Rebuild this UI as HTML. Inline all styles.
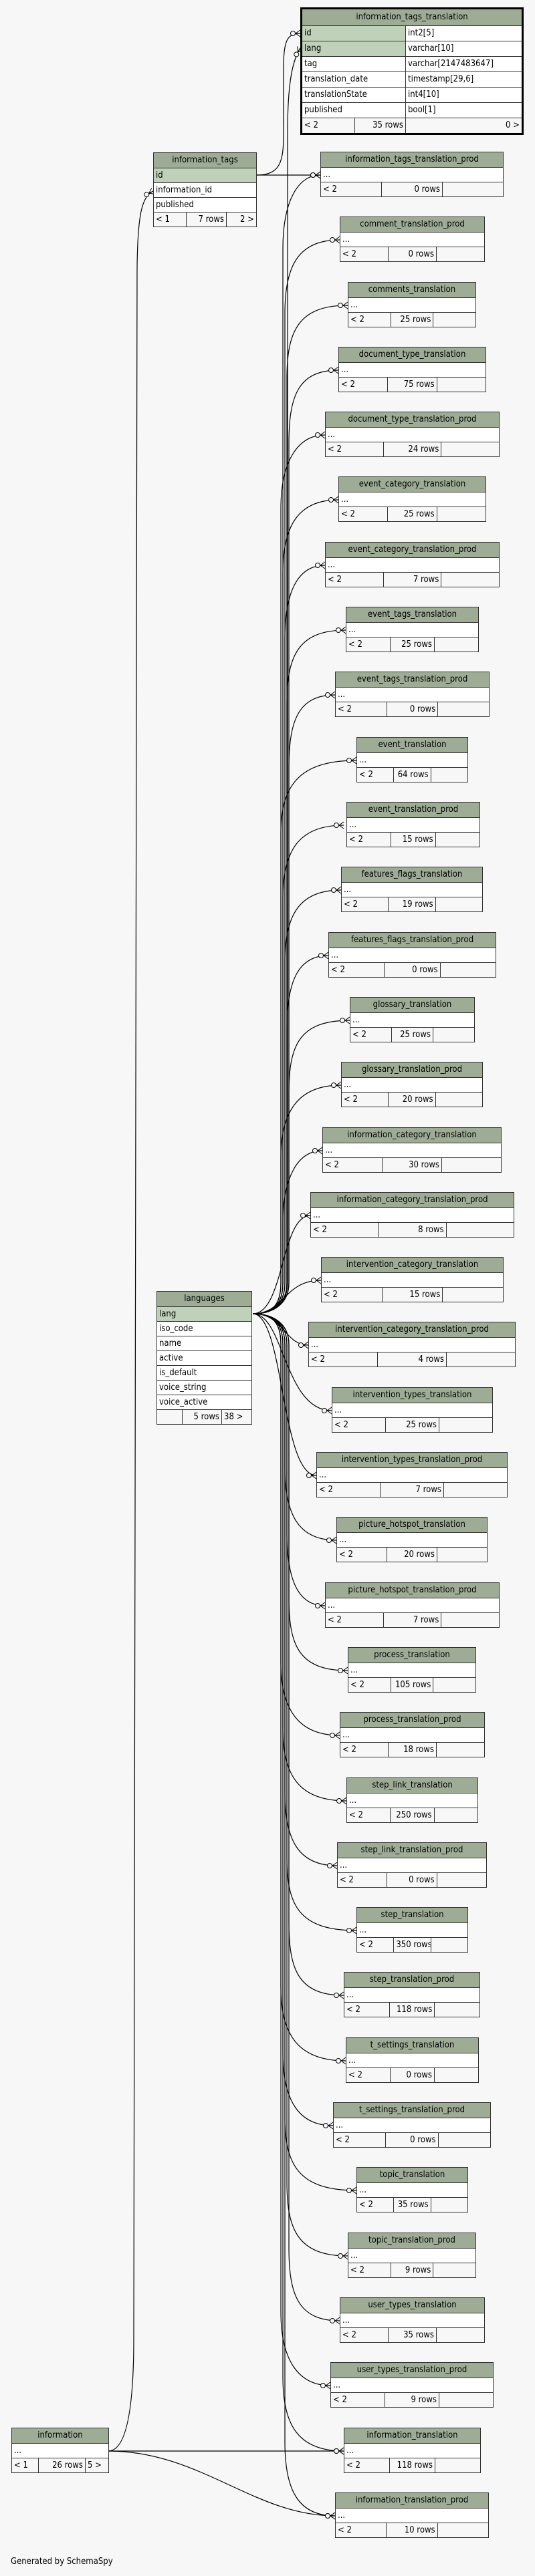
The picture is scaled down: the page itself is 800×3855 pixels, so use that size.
<!DOCTYPE html>
<html><head><meta charset="utf-8"><style>
body{margin:0;background:#f7f7f7;width:800px;height:3855px;position:relative;overflow:hidden;font-family:"DejaVu Sans Condensed","DejaVu Sans","Liberation Sans",sans-serif;font-size:13px;color:#000}
svg{position:absolute;left:0;top:0}
.t{position:absolute;border:1px solid #333;background:#fff;box-sizing:border-box}
.h{background:#9eac96;height:22px;line-height:22px;text-align:center;border-bottom:1px solid #333;white-space:nowrap;overflow:hidden}
.r{height:21px;line-height:21px;padding-left:3px;border-bottom:1px solid #333;white-space:nowrap}
.k{background:#bfd1b9}
.f{display:flex;height:21px;line-height:21px;background:#f7f7f7}
.f span{flex:1;border-right:1px solid #333;padding:0 3px;white-space:nowrap;overflow:hidden}
.f span:nth-child(2){text-align:right}
.f span:last-child{border-right:none}
.itt{border:3px solid #000}
.itt .row{display:flex;height:22px;line-height:22px;border-bottom:1px solid #333}
.itt .row div{padding-left:3px;white-space:nowrap}
.itt .row div:first-child{width:151px;border-right:1px solid #333}
.gen{position:absolute;left:16px;top:3826px;font-size:13px}
</style></head><body>
<svg width="800" height="3855">
<defs><marker id="m" markerWidth="16" markerHeight="12" refX="15" refY="6" orient="auto" markerUnits="userSpaceOnUse"><circle cx="4" cy="6" r="3.5" fill="#f7f7f7" stroke="#000"/><path d="M8 6L15 1M8 6L15 6M8 6L15 11" stroke="#000" fill="none"/></marker></defs>
<g fill="none" stroke="#000" stroke-width="1.2" marker-end="url(#m)">
<path d="M384 262C420 262 424 240 424 200L424 100C424 60 430 50 449 50"/>
<path d="M384 262L479 262"/>
<path d="M378 1966C410 1966 430 1950 430 1920L430 200C430 120 438 90 449 72"/>
<path d="M378 1966C410 1966 423 1950 423 1920L423 372C423 302 445 262 479 262"/>
<path d="M378 1966C410 1966 426 1950 426 1920L426 469C426 399 445 359 508 359"/>
<path d="M378 1966C410 1966 429 1950 429 1920L429 567C429 497 445 457 520 457"/>
<path d="M378 1966C410 1966 432 1950 432 1920L432 664C432 594 445 554 506 554"/>
<path d="M378 1966C410 1966 420 1950 420 1920L420 761C420 691 445 651 486 651"/>
<path d="M378 1966C410 1966 423 1950 423 1920L423 858C423 788 445 748 506 748"/>
<path d="M378 1966C410 1966 426 1950 426 1920L426 956C426 886 445 846 486 846"/>
<path d="M378 1966C410 1966 429 1950 429 1920L429 1053C429 983 445 943 517 943"/>
<path d="M378 1966C410 1966 432 1950 432 1920L432 1150C432 1080 445 1040 501 1040"/>
<path d="M378 1966C410 1966 420 1950 420 1920L420 1248C420 1178 445 1138 533 1138"/>
<path d="M378 1966C410 1966 423 1950 423 1920L423 1345C423 1275 445 1235 514 1235"/>
<path d="M378 1966C410 1966 426 1950 426 1920L426 1442C426 1372 445 1332 510 1332"/>
<path d="M378 1966C410 1966 429 1950 429 1920L429 1540C429 1470 445 1430 491 1430"/>
<path d="M378 1966C410 1966 432 1950 432 1920L432 1637C432 1567 445 1527 523 1527"/>
<path d="M378 1966C410 1966 420 1950 420 1920L420 1734C420 1664 445 1624 510 1624"/>
<path d="M378 1966C410 1966 423 1950 423 1920L423 1832C423 1762 445 1722 482 1722"/>
<path d="M378 1966C425 1966 420 1819 464 1819"/>
<path d="M378 1966C425 1966 425 1916 480 1916"/>
<path d="M378 1966C425 1966 425 2013 461 2013"/>
<path d="M378 1966C425 1966 425 2111 496 2111"/>
<path d="M378 1966C425 1966 420 2208 473 2208"/>
<path d="M378 1966C410 1966 426 1982 426 2012L426 2195C426 2265 445 2305 503 2305"/>
<path d="M378 1966C410 1966 429 1982 429 2012L429 2293C429 2363 445 2403 486 2403"/>
<path d="M378 1966C410 1966 432 1982 432 2012L432 2390C432 2460 445 2500 520 2500"/>
<path d="M378 1966C410 1966 420 1982 420 2012L420 2487C420 2557 445 2597 508 2597"/>
<path d="M378 1966C410 1966 423 1982 423 2012L423 2585C423 2655 445 2695 518 2695"/>
<path d="M378 1966C410 1966 426 1982 426 2012L426 2682C426 2752 445 2792 504 2792"/>
<path d="M378 1966C410 1966 429 1982 429 2012L429 2779C429 2849 445 2889 533 2889"/>
<path d="M378 1966C410 1966 432 1982 432 2012L432 2876C432 2946 445 2986 514 2986"/>
<path d="M378 1966C410 1966 420 1982 420 2012L420 2974C420 3044 445 3084 517 3084"/>
<path d="M378 1966C410 1966 423 1982 423 2012L423 3071C423 3141 445 3181 498 3181"/>
<path d="M378 1966C410 1966 426 1982 426 2012L426 3168C426 3238 445 3278 533 3278"/>
<path d="M378 1966C410 1966 429 1982 429 2012L429 3266C429 3336 445 3376 520 3376"/>
<path d="M378 1966C410 1966 432 1982 432 2012L432 3363C432 3433 445 3473 508 3473"/>
<path d="M378 1966C410 1966 420 1982 420 2012L420 3460C420 3530 445 3570 494 3570"/>
<path d="M378 1966C410 1966 423 1982 423 2012L423 3558C423 3628 445 3668 514 3668"/>
<path d="M378 1966C410 1966 426 1982 426 2012L426 3655C426 3725 445 3765 501 3765"/>
<path d="M162 3668C190 3668 200 3600 200 3500L205 400C206 320 212 295 229 286"/>
<path d="M162 3668L514 3668"/>
<path d="M162 3668C300 3668 380 3765 501 3765"/>
</g>
</svg>

<div class="t itt" style="left:449px;top:11px;width:334px">
<div class="h" style="height:24px;line-height:24px">information_tags_translation</div>
<div class="row"><div class="k">id</div><div>int2[5]</div></div>
<div class="row"><div class="k">lang</div><div>varchar[10]</div></div>
<div class="row"><div>tag</div><div>varchar[2147483647]</div></div>
<div class="row"><div>translation_date</div><div>timestamp[29,6]</div></div>
<div class="row"><div>translationState</div><div>int4[10]</div></div>
<div class="row"><div>published</div><div>bool[1]</div></div>
<div class="f" style="height:22px;line-height:22px"><span style="flex:0 0 72px">&lt; 2</span><span style="flex:0 0 69px">35 rows</span><span style="text-align:right">0 &gt;</span></div>
</div>

<div class="t" style="left:229px;top:228px;width:155px">
<div class="h">information_tags</div>
<div class="r k">id</div><div class="r">information_id</div><div class="r">published</div>
<div class="f"><span style="flex:0 0 42px">&lt; 1</span><span style="flex:0 0 53px">7 rows</span><span style="text-align:right">2 &gt;</span></div>
</div>

<div class="t" style="left:234px;top:1932px;width:143px">
<div class="h">languages</div>
<div class="r k">lang</div><div class="r">iso_code</div><div class="r">name</div><div class="r">active</div><div class="r">is_default</div><div class="r">voice_string</div><div class="r">voice_active</div>
<div class="f"><span style="flex:0 0 31px"></span><span style="flex:0 0 52px">5 rows</span><span>38 &gt;</span></div>
</div>

<div class="t" style="left:17px;top:3633px;width:146px">
<div class="h">information</div>
<div class="r">...</div>
<div class="f"><span style="flex:0 0 33px">&lt; 1</span><span style="flex:0 0 63px">26 rows</span><span>5 &gt;</span></div>
</div>

<div class="t" style="left:479px;top:227px;width:274px"><div class="h">information_tags_translation_prod</div><div class="r">...</div><div class="f"><span>&lt; 2</span><span>0 rows</span><span></span></div></div>
<div class="t" style="left:508px;top:324px;width:217px"><div class="h">comment_translation_prod</div><div class="r">...</div><div class="f"><span>&lt; 2</span><span>0 rows</span><span></span></div></div>
<div class="t" style="left:520px;top:422px;width:192px"><div class="h">comments_translation</div><div class="r">...</div><div class="f"><span>&lt; 2</span><span>25 rows</span><span></span></div></div>
<div class="t" style="left:506px;top:519px;width:221px"><div class="h">document_type_translation</div><div class="r">...</div><div class="f"><span>&lt; 2</span><span>75 rows</span><span></span></div></div>
<div class="t" style="left:486px;top:616px;width:261px"><div class="h">document_type_translation_prod</div><div class="r">...</div><div class="f"><span>&lt; 2</span><span>24 rows</span><span></span></div></div>
<div class="t" style="left:506px;top:713px;width:221px"><div class="h">event_category_translation</div><div class="r">...</div><div class="f"><span>&lt; 2</span><span>25 rows</span><span></span></div></div>
<div class="t" style="left:486px;top:811px;width:261px"><div class="h">event_category_translation_prod</div><div class="r">...</div><div class="f"><span>&lt; 2</span><span>7 rows</span><span></span></div></div>
<div class="t" style="left:517px;top:908px;width:199px"><div class="h">event_tags_translation</div><div class="r">...</div><div class="f"><span>&lt; 2</span><span>25 rows</span><span></span></div></div>
<div class="t" style="left:501px;top:1005px;width:231px"><div class="h">event_tags_translation_prod</div><div class="r">...</div><div class="f"><span>&lt; 2</span><span>0 rows</span><span></span></div></div>
<div class="t" style="left:533px;top:1103px;width:167px"><div class="h">event_translation</div><div class="r">...</div><div class="f"><span>&lt; 2</span><span>64 rows</span><span></span></div></div>
<div class="t" style="left:518px;top:1200px;width:200px"><div class="h">event_translation_prod</div><div class="r">...</div><div class="f"><span>&lt; 2</span><span>15 rows</span><span></span></div></div>
<div class="t" style="left:510px;top:1297px;width:212px"><div class="h">features_flags_translation</div><div class="r">...</div><div class="f"><span>&lt; 2</span><span>19 rows</span><span></span></div></div>
<div class="t" style="left:491px;top:1395px;width:251px"><div class="h">features_flags_translation_prod</div><div class="r">...</div><div class="f"><span>&lt; 2</span><span>0 rows</span><span></span></div></div>
<div class="t" style="left:523px;top:1492px;width:187px"><div class="h">glossary_translation</div><div class="r">...</div><div class="f"><span>&lt; 2</span><span>25 rows</span><span></span></div></div>
<div class="t" style="left:510px;top:1589px;width:212px"><div class="h">glossary_translation_prod</div><div class="r">...</div><div class="f"><span>&lt; 2</span><span>20 rows</span><span></span></div></div>
<div class="t" style="left:482px;top:1687px;width:268px"><div class="h">information_category_translation</div><div class="r">...</div><div class="f"><span>&lt; 2</span><span>30 rows</span><span></span></div></div>
<div class="t" style="left:464px;top:1784px;width:305px"><div class="h">information_category_translation_prod</div><div class="r">...</div><div class="f"><span>&lt; 2</span><span>8 rows</span><span></span></div></div>
<div class="t" style="left:480px;top:1881px;width:273px"><div class="h">intervention_category_translation</div><div class="r">...</div><div class="f"><span>&lt; 2</span><span>15 rows</span><span></span></div></div>
<div class="t" style="left:461px;top:1978px;width:310px"><div class="h">intervention_category_translation_prod</div><div class="r">...</div><div class="f"><span>&lt; 2</span><span>4 rows</span><span></span></div></div>
<div class="t" style="left:496px;top:2076px;width:241px"><div class="h">intervention_types_translation</div><div class="r">...</div><div class="f"><span>&lt; 2</span><span>25 rows</span><span></span></div></div>
<div class="t" style="left:473px;top:2173px;width:286px"><div class="h">intervention_types_translation_prod</div><div class="r">...</div><div class="f"><span>&lt; 2</span><span>7 rows</span><span></span></div></div>
<div class="t" style="left:503px;top:2270px;width:226px"><div class="h">picture_hotspot_translation</div><div class="r">...</div><div class="f"><span>&lt; 2</span><span>20 rows</span><span></span></div></div>
<div class="t" style="left:486px;top:2368px;width:261px"><div class="h">picture_hotspot_translation_prod</div><div class="r">...</div><div class="f"><span>&lt; 2</span><span>7 rows</span><span></span></div></div>
<div class="t" style="left:520px;top:2465px;width:192px"><div class="h">process_translation</div><div class="r">...</div><div class="f"><span>&lt; 2</span><span>105 rows</span><span></span></div></div>
<div class="t" style="left:508px;top:2562px;width:217px"><div class="h">process_translation_prod</div><div class="r">...</div><div class="f"><span>&lt; 2</span><span>18 rows</span><span></span></div></div>
<div class="t" style="left:518px;top:2660px;width:197px"><div class="h">step_link_translation</div><div class="r">...</div><div class="f"><span>&lt; 2</span><span>250 rows</span><span></span></div></div>
<div class="t" style="left:504px;top:2757px;width:224px"><div class="h">step_link_translation_prod</div><div class="r">...</div><div class="f"><span>&lt; 2</span><span>0 rows</span><span></span></div></div>
<div class="t" style="left:533px;top:2854px;width:167px"><div class="h">step_translation</div><div class="r">...</div><div class="f"><span>&lt; 2</span><span>350 rows</span><span></span></div></div>
<div class="t" style="left:514px;top:2951px;width:204px"><div class="h">step_translation_prod</div><div class="r">...</div><div class="f"><span>&lt; 2</span><span>118 rows</span><span></span></div></div>
<div class="t" style="left:517px;top:3049px;width:199px"><div class="h">t_settings_translation</div><div class="r">...</div><div class="f"><span>&lt; 2</span><span>0 rows</span><span></span></div></div>
<div class="t" style="left:498px;top:3146px;width:236px"><div class="h">t_settings_translation_prod</div><div class="r">...</div><div class="f"><span>&lt; 2</span><span>0 rows</span><span></span></div></div>
<div class="t" style="left:533px;top:3243px;width:167px"><div class="h">topic_translation</div><div class="r">...</div><div class="f"><span>&lt; 2</span><span>35 rows</span><span></span></div></div>
<div class="t" style="left:520px;top:3341px;width:192px"><div class="h">topic_translation_prod</div><div class="r">...</div><div class="f"><span>&lt; 2</span><span>9 rows</span><span></span></div></div>
<div class="t" style="left:508px;top:3438px;width:217px"><div class="h">user_types_translation</div><div class="r">...</div><div class="f"><span>&lt; 2</span><span>35 rows</span><span></span></div></div>
<div class="t" style="left:494px;top:3535px;width:244px"><div class="h">user_types_translation_prod</div><div class="r">...</div><div class="f"><span>&lt; 2</span><span>9 rows</span><span></span></div></div>
<div class="t" style="left:514px;top:3633px;width:205px"><div class="h">information_translation</div><div class="r">...</div><div class="f"><span>&lt; 2</span><span>118 rows</span><span></span></div></div>
<div class="t" style="left:501px;top:3730px;width:230px"><div class="h">information_translation_prod</div><div class="r">...</div><div class="f"><span>&lt; 2</span><span>10 rows</span><span></span></div></div>

<div class="gen">Generated by SchemaSpy</div>
</body></html>
